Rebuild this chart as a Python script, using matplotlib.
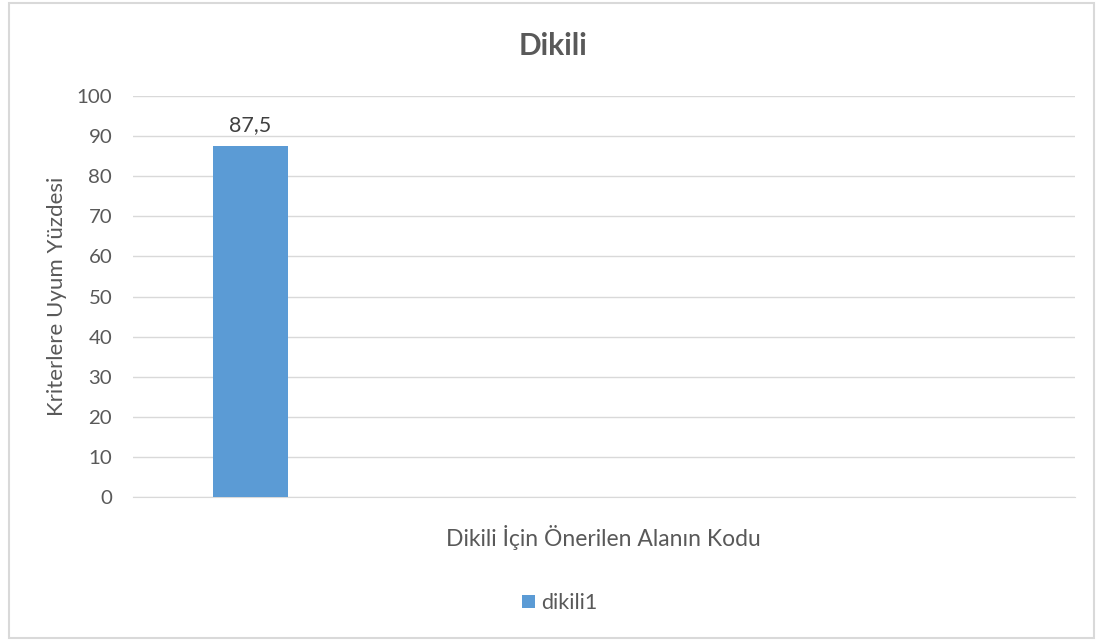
import matplotlib
matplotlib.use("Agg")
import matplotlib.pyplot as plt
from matplotlib.patches import Rectangle

categories = ["dikili1"]
values = [87.5]
y_ticks = [0, 10, 20, 30, 40, 50, 60, 70, 80, 90, 100]
title = "Dikili"
xlabel = "Dikili İçin Önerilen Alanın Kodu"
ylabel = "Kriterlere Uyum Yüzdesi"

plt.rcParams['font.family'] = ['Lato', 'DejaVu Sans']
W, H = 1103, 643
fig = plt.figure(figsize=(W / 100, H / 100), dpi=100)
fig.patch.set_facecolor("white")
fig.add_artist(Rectangle((9 / W, 1 - 638 / H), (1094 - 9) / W, (638 - 3) / H,
                         transform=fig.transFigure, fill=False, edgecolor="#d9d9d9", lw=1.5))

ax = fig.add_axes([133 / W, 1 - 497 / H, (1075 - 133) / W, (497 - 96) / H])
bar_color = "#5B9BD5"
for i, (c, v) in enumerate(zip(categories, values)):
    ax.bar(i, v, width=1.0, color=bar_color, label=c, zorder=3)
    ax.text(i, v + 2.8, f"{v:g}".replace(".", ","), ha="center", va="bottom",
            fontsize=15.5, color="#404040")

ax.set_xlim(-1.56, 11.0)
ax.set_ylim(0, 100)
ax.set_yticks(y_ticks)
ax.set_xticks([])
ax.grid(axis="y", color="#d9d9d9", lw=1, zorder=0)
for s in ["top", "right", "left"]:
    ax.spines[s].set_visible(False)
ax.spines["bottom"].set_color("#d9d9d9")
ax.tick_params(axis="y", length=0, labelsize=14.7, labelcolor="#595959", pad=15)

fig.text(553 / W, 1 - 46 / H, title, ha="center", va="center", fontsize=21.5,
         fontweight="bold", color="#595959")
fig.text(57 / W, 1 - 296 / H, ylabel, ha="center", va="center", rotation=90,
         fontsize=16, color="#595959")
fig.text(603 / W, 1 - 537 / H, xlabel, ha="center", va="center",
         fontsize=16.5, color="#595959")

handles, labels = ax.get_legend_handles_labels()
leg = fig.legend(handles, labels, loc="center", bbox_to_anchor=(560 / W, 1 - 603 / H),
                 frameon=False, fontsize=15.5, handlelength=0.6, handleheight=0.6,
                 handletextpad=0.3, labelcolor="#595959")

fig.savefig("out.png", dpi=100, facecolor="white")
